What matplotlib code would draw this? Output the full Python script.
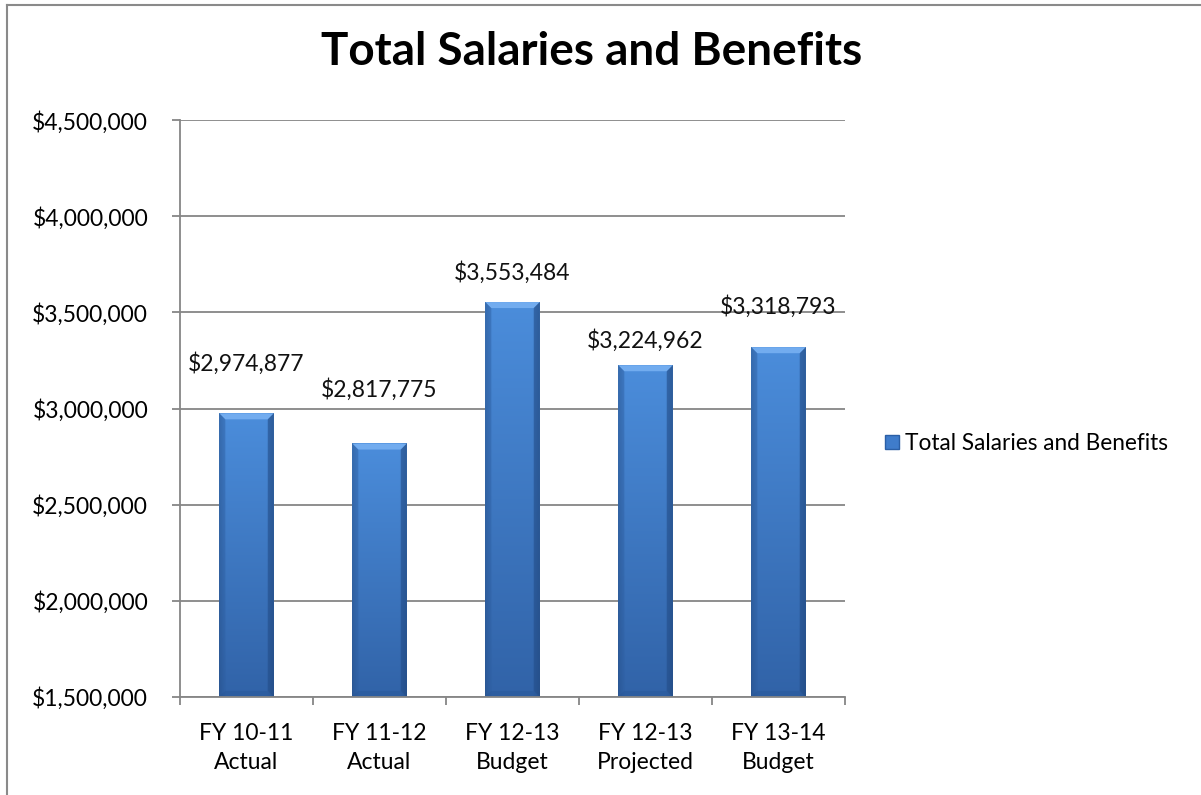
import numpy as np
import matplotlib.pyplot as plt
from matplotlib.patches import Polygon
from matplotlib.lines import Line2D
from matplotlib.ticker import FuncFormatter, FixedLocator
from matplotlib.colors import to_rgb

categories = ['FY 10-11\nActual', 'FY 11-12\nActual', 'FY 12-13\nBudget',
              'FY 12-13\nProjected', 'FY 13-14\nBudget']
values = [2974877, 2817775, 3553484, 3224962, 3318793]
series_name = 'Total Salaries and Benefits'
# manual offsets (points) of the data labels above each bar
label_offsets = [28, 31, 13, 10, 21]

plt.rcParams['font.family'] = ['Lato', 'DejaVu Sans']

fig = plt.figure(figsize=(12.01, 7.95), dpi=100)
ax = fig.add_axes([0.1499, 0.1233, 0.5537, 0.7257])

ymin, ymax = 1500000, 4500000
x = np.arange(len(values))
width = 0.41
bars = ax.bar(x, values, width=width, color='#3f7ccb', zorder=2)

# gradient fill: lighter at top, darker at bottom, a bit darker at the sides
top_c = np.array(to_rgb('#4b8ddb'))
bot_c = np.array(to_rgb('#3163a8'))
ny, nx = 100, 60
t = np.linspace(1, 0, ny)[:, None, None]          # row 0 = top of image
vert = bot_c + (top_c - bot_c) * t
side = 1 - 0.18 * np.clip(np.abs(np.linspace(-1, 1, nx)) - 0.75, 0, None) / 0.25
img = np.clip(vert * side[None, :, None], 0, 1)

px_per_unit = 577 / (ymax - ymin)
for b in bars:
    bx, bw = b.get_x(), b.get_width()
    top = b.get_y() + b.get_height()
    by = max(b.get_y(), ymin)
    b.set_facecolor('none')
    ax.imshow(img, aspect='auto', extent=[bx, bx + bw, by, top],
              zorder=2.1, interpolation='bilinear')
    # bevel: lighter top edge, darker sides
    dx = bw * 0.11
    dy = 6 / px_per_unit
    ax.add_patch(Polygon([[bx, top], [bx + bw, top], [bx + bw - dx, top - dy], [bx + dx, top - dy]],
                         closed=True, facecolor='#72acef', edgecolor='none', zorder=2.2))
    ax.add_patch(Polygon([[bx, top], [bx + dx, top - dy], [bx + dx, by + dy], [bx, by]],
                         closed=True, facecolor='#2f62a8', edgecolor='none', zorder=2.2, alpha=0.45))
    ax.add_patch(Polygon([[bx + bw, top], [bx + bw - dx, top - dy], [bx + bw - dx, by + dy], [bx + bw, by]],
                         closed=True, facecolor='#244f8c', edgecolor='none', zorder=2.2, alpha=0.6))
    ax.add_patch(Polygon([[bx, by], [bx + dx, by + dy], [bx + bw - dx, by + dy], [bx + bw, by]],
                         closed=True, facecolor='#2a5a9c', edgecolor='none', zorder=2.2, alpha=0.6))

for xi, v, off in zip(x, values, label_offsets):
    ax.annotate(f'${v:,.0f}', (xi, v), xytext=(0, off), textcoords='offset points',
                ha='center', va='bottom', fontsize=16.5, color='#111111')

ax.set_xlim(-0.5, len(values) - 0.5)
ax.set_ylim(ymin, ymax)
ax.set_yticks(np.arange(ymin, ymax + 1, 500000))
ax.yaxis.set_major_formatter(FuncFormatter(lambda v, p: f'${v:,.0f}'))
ax.set_xticks(x)
ax.set_xticklabels(categories, linespacing=1.45)
ax.xaxis.set_minor_locator(FixedLocator(np.arange(-0.5, len(values), 1)))
ax.tick_params(axis='x', which='major', length=0, pad=19, labelsize=16.5)
ax.tick_params(axis='x', which='minor', length=6, direction='out', color='#868686', width=1.3)
ax.tick_params(axis='y', length=6, direction='out', color='#868686', width=1.3, labelsize=16.5, pad=17)

ax.grid(axis='y', color='#868686', linewidth=1.3, zorder=0)
ax.set_axisbelow(True)
for s in ['top', 'right']:
    ax.spines[s].set_visible(False)
for s in ['left', 'bottom']:
    ax.spines[s].set_color('#868686')
    ax.spines[s].set_linewidth(1.3)

fig.text(0.4925, 0.935, 'Total Salaries and Benefits', ha='center', va='center',
         fontsize=33, fontweight='bold')

handle = Line2D([], [], marker='s', linestyle='none', markersize=10,
                markerfacecolor='#3f7ccb', markeredgecolor='#2b5fa6')
fig.legend([handle], [series_name], loc='center left', bbox_to_anchor=(0.718, 0.442),
           frameon=False, fontsize=16.3, handletextpad=0.2, handlelength=0.8)

# outer chart border
fig.add_artist(Line2D([7 / 1201, 7 / 1201], [0, 1 - 5 / 795], color='#8a8a8a', linewidth=1.5))
fig.add_artist(Line2D([7 / 1201, 1], [1 - 5 / 795, 1 - 5 / 795], color='#8a8a8a', linewidth=1.5))

fig.savefig('out.png', dpi=100)
